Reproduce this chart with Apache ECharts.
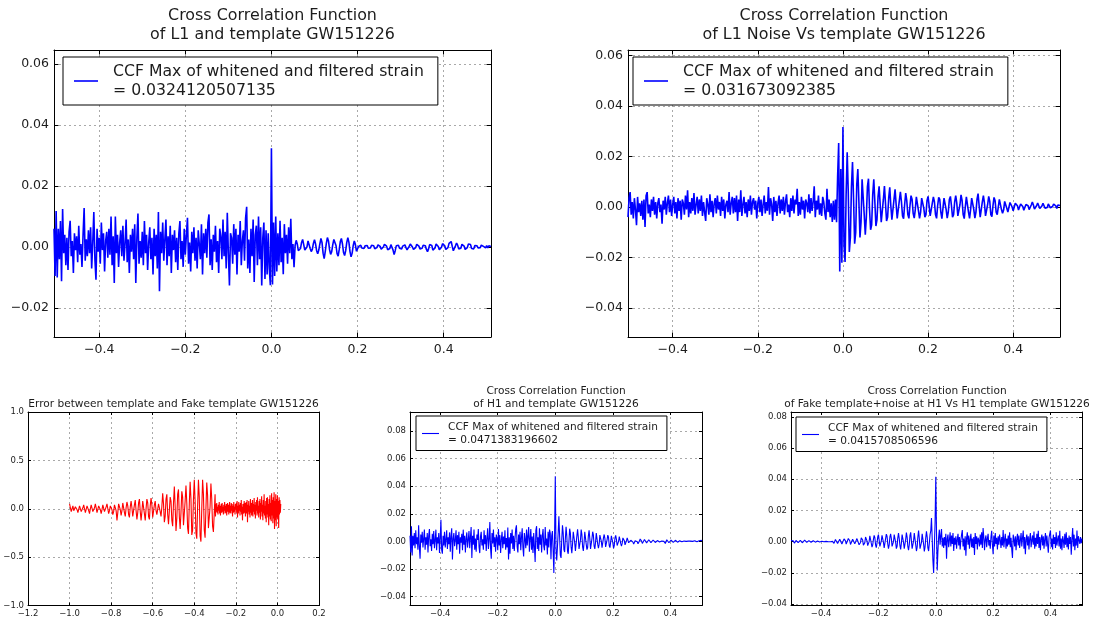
<!DOCTYPE html>
<html>
<head>
<meta charset="utf-8">
<script src="https://cdn.jsdelivr.net/npm/echarts@6/dist/echarts.min.js"></script>
<style>
html,body{margin:0;padding:0;background:#fff}
#chart{width:1094px;height:621px}
</style>
</head>
<body>
<div id="chart"></div>
<script>
// Lag grid shared by the four cross-correlation panels (seconds)
const LAG_START = -0.505;
const LAG_STEP = 0.0025;
const CCF_UNIT = 1e-4;   // CCF arrays are stored in units of 1e-4

// CCF of L1 strain with the GW151226 template
const l1Ccf = [
  60, -95,
  118, -100, 60, -40, 85, -112, 125, -20, 40, -60,
  30, -75, 50, 86, -30, 20, -85, 45, -10, 35,
  -50, 70, -25, 10, -65, 40, 128, -45, 25, -30,
  55, -20, 65, -70, 15, 115, -40, -107, 60, -15,
  30, -55, 80, -10, 45, -80, 20, 50, -35, 60,
  -25, 100, -60, 35, -118, 100, -20, 40, -65, 15,
  55, -30, 70, -45, 10, 90, -50, 25, -85, 40,
  -15, 60, -40, 75, -118, 30, 110, -55, 20, -35,
  50, -60, 85, -20, 40, -75, 15, 65, -40, 30,
  -90, 60, -30, 40, -70, 115, -145, 50, -20, 80,
  -45, 25, 90, -60, 35, -30, 70, -85, 40, -10,
  55, -50, 30, -75, 45, 85, -40, 20, -65, 60,
  -25, 40, 96, -55, 15, -80, 50, -20, 65, -45,
  30, -70, 55, 10, -40, 75, -90, 45, -20, 60,
  -35, 80, 107, -60, 25, -75, 40, -15, 70, -50,
  20, -85, 60, 35, -40, 90, -30, 50, -70, 112,
  -20, -126, 45, 30, -55, 75, -25, 60, -90, 40,
  -15, 85, -60, 20, 55, -45, 95, 132, -70, 25,
  -85, 60, -30, 90, -115, 40, 70, -60, 100, -40,
  65, -126, 30, 80, -105, 55, -90, 45, -70, -125,
  324.120507135,
  -123, 80, -95, 100, -80, 45, -60, 86, -50, 30, -89, 75, -20, 40, -55, 65, -20, 93, -40, 10, -66,
  5, 22, 10, -12, -18, -5,
  15, 25, 8, -10, -16, 0,
  20, 18, -5, -15, -8, 12,
  24, 10, -12, -22, -10, 10,
  28, 15, -20, -38, -15, 12,
  31, 20, -8, -24, -15, 8,
  25, 31, 5, -22, -30, -8,
  18, 28, 10, -18, -28, -12,
  15, 31, 15, -15, -32, -20,
  5, 20, 8, -14, -10, 2,
  8, 6, -3, -8, -5, 4,
  9, 5, -4, -9, -3, 6,
  10, 4, -6, -10, -2, 7,
  8, 2, -7, -8, 0, 9,
  11, 3, -9, -14, -5, 8,
  12, -10, -25, -12, 4, 10,
  6, -4, -10, -6, 3, 9,
  7, -2, -9, -8, 2, 10,
  8, 0, -8, -10, -2, 9,
  11, 3, -6, -12, -4, 6,
  12, 4, -8, -15, -6, 8,
  13, 5, -10, -14, -3, 10,
  12, 2, -9, -12, -1, 11,
  14, 4, -8, -13, -2, 12,
  15, 18, 2, -12, -10, 4,
  13, 6, -6, -12, -4, 9,
  12, 3, -8, -11, -2, 10,
  15, 8, -5, -10, -6, 5,
  10, 4, -3, -8, -2, 6,
  8, 2, -4, -3, 5,
  -3, 4, 6, 2
];

// CCF of L1 noise with the GW151226 template
const l1NoiseCcf = [
  -40, 35,
  59, -30, 20, -45, 35, -10, -72, 40, -20, 15,
  -35, 25, -50, 30, -79, 45, 59, -25, 10, -40,
  30, -15, 40, -30, 20, -45, 15, 35, -20, 10,
  -66, 25, -10, 40, -30, 15, 45, -20, 30, -35,
  10, 40, -25, 20, -45, 35, -15, 25, -50, 30,
  15, -30, 45, -10, 66, -40, 20, -25, 35, -15,
  55, -30, 10, 40, -25, 30, -15, 45, -35, 20,
  -20, -55, 35, 10, -30, 50, -20, 25, -40, 15,
  35, -25, 45, -10, 20, -35, 40, -15, 30, -45,
  10, 25, -20, 59, -30, 15, 40, -25, 35, -20,
  45, -55, 30, -20, 66, -35, 10, 40, -25, 20,
  -40, 30, -15, 45, -30, 20, 35, -10, 25, -45,
  15, 40, -20, 30, -35, 10, 45, -25, 20, -15,
  79, -30, 35, 10, -55, 40, -20, 25, -35, 15,
  45, -25, 30, -15, 40, -30, 20, 50, -20, 10,
  -40, 35, -15, 45, -25, 30, 10, 72, -35, 20,
  -30, 40, -10, 25, -45, 30, 15, -20, 50, -25,
  35, -15, 20, 82, -40, 25, -10, 45, -30, 15,
  -35, 40, 20, -25, -50, 72, -20, 30, -40, 15,
  -59, 25,
  -50, 30, -60, 120, 253, -255, 150, -220,
  316.73092385,
  -150, -217, 50, 217, 60, -178, -120, 80, 178, 30,
  -145, -100, 90, 150, 20, -120, -60, 110, 112, -30,
  -109, -40, 80, 112, -10, -90, -70, 50, 110, 20,
  -75, -50, 40, 82, 10, -60, -59, 30, 83, 15,
  -55, -40, 35, 78, 5, -50, -46, 30, 70, 10,
  -45, -40, 25, 60, 20, -35, -46, 10, 55, 25,
  -30, -45, 5, 45, 30, -25, -44, -10, 40, 35,
  -15, -45, -20, 35, 40, -5, -40, -30, 25, 42,
  5, -35, -40, 15, 40, 20, -30, -45, 5, 38,
  30, -20, -46, -5, 35, 38, -10, -44, -20, 30,
  42, 5, -40, -30, 20, 45, 15, -35, -40, 10,
  48, 25, -30, -46, 0, 40, 35, -20, -45, -10,
  35, 42, -10, -44, -20, 30, 53, 5, -40, -33,
  20, 45, 15, -35, -40, 10, 42, 22, -30, -38,
  5, 38, 25, -20, -30, 0, 30, 28, -10, -25,
  -12, 22, 25, -5, -20, -15, 18, 22, 0, -15,
  -13, 15, 20, 5, -12, -10, 12, 18, 2, -13,
  -8, 10, 17, 5, -10, -12, 8, 20, 8, -8,
  -13, 5, 16, 10, -6, -10, 4, 15, 12, -5,
  -12, -2, 12, 10, -3, -8, 2, 12, 8, 5,
  -6, 8, 10, 6
];

// CCF of H1 strain with the GW151226 template
const h1Ccf = [
  40, -80,
  109, -102, 40, -30, 60, -50, 80, -20, 30, -60,
  116, -40, -126, 50, -10, 70, -45, 20, 85, -60,
  30, -25, 60, -80, 40, 90, -35, 15, -70, 55,
  -20, 75, -50, 10, 85, -65, 30, -15, 60, -85,
  25, 157, -60, -90, 40, -30, 70, -45, 15, 80,
  -55, 30, -20, 65, -75, 40, 95, -131, 20, 60,
  -35, 10, 80, -60, 45, -20, 70, -90, 30, -10,
  55, -65, 85, -25, 40, -80, 20, 65, -45, 10,
  75, -50, 30, 104, -120, 40, -25, 85, -60, 20,
  -75, 50, 10, 90, -40, -85, 35, 70, -30, 15,
  -60, 80, -20, 45, -70, 25, 95, -55, 10, 140,
  -50, -126, 60, -15, 85, -40, 30, -75, 50, 20,
  -65, 90, -30, 45, -85, 15, 70, -50, 35, -20,
  80, -60, 25, -45, 100, -131, 30, -90, 60, -15,
  85, -55, 40, -70, 20, 90, 116, -40, -80, 50,
  -20, 70, -65, 30, 95, -45, -110, 60, 15, -50,
  85, -30, 40, 104, -75, 20, 90, -60, 35, -85,
  60, -40, -150, 80, 110, -55, 30, -70, 95, -25,
  50, -80, 40, 90, -35, -65, 104, -30, 20, -95,
  70, -45, 85, 60, -130, 40, 75, -60,
  -230, 30,
  471.383196602,
  -60, -138, -40, 60, 182, 40, -100, -120, 10, 116,
  60, -60, -77, 20, 105, 40, -70, -90, 0, 92,
  60, -40, -85, -20, 70, 80, -10, -70, -60, 40,
  88, 30, -55, -65, 10, 85, 50, -40, -70, -10,
  70, 75, -20, -60, -45, 40, 80, 20, -55, -50,
  20, 70, 45, -35, -55, -5, 60, 55, -20, -50,
  -20, 45, 55, 0, -45, -35, 25, 50, 20, -40,
  -40, 10, 45, 30, -30, -45, -5, 40, 44, -10,
  -50, -30, 25, 44, 15, -30, -40, 0, 35, 30,
  -15, -35, -15, 25, 30, 5, -25, -25, 5, 25,
  15, -10, -22, -12, 8, 20, 15,
  -5, -20, -15, 5, 18, 16, -2,
  -18, -18, 2, 17, 18, 2, -15,
  -20, -5, 14, 20, 6, -12, -20,
  -8, 12, 18, 8, -10, -18, -10,
  10, 16, 10, -8, -16, -12, 6,
  15, 12, -4, -15, -14, 2, 14,
  14, 0, -13, -15, -2, 12, 15,
  3, -10, -14, -4, 10, 14, 6,
  -8, -14, -6, 8, 13, 8, -6,
  -12, -8, 5, 12, 10, -3, -12,
  -10, 3, 12, 11, 0, -10, -10,
  2, 11, 12, 2, -8, -10, 0,
  10, 12, 4, -6, -10, -2, 8,
  10, 5,
  -3, 6, 8, 2
];

// CCF of fake template + H1 noise with the H1 template
const fakeH1Ccf = [
  8, -4,
  10, 5, -5, -9, -3, 8,
  12, 4, -6, -8, 0, 9,
  11, 2, -7, -9, 1, 10,
  13, 5, -5, -10, -4, 7,
  12, 6, -4, -9, -5, 6,
  11, 8, -3, -8, -6, 4,
  10, 9, -2, -9, -7, 3,
  12, 10, -1, -10, -8, 2,
  13, 11, 0, -9, -10, 0,
  12, 12, 2, -10, -11, -2,
  14, 15, 3, -12, -14, -3,
  16, 18, 4, -15, -18, -5,
  18, 22, 5, -16, -20, -4,
  20, 23, 6, -18, -26, -8,
  15, 25, 12, -14, -22, -10,
  20, 28, 8, -20, -26, -5,
  25, 30, 10, -22, -28, -6,
  30, 35, 5, -25, -30, 0,
  38, 30, -10, -35, -20, 15,
  40, 25, -20, -38, -10, 30,
  45, 10, -30, -35, 5, 40,
  42, -5, -40, -30, 20, 48,
  35, -15, -45, -20, 30, 50,
  20, -30, -42, 0, 45, 40,
  -5, -45, -30, 25, 55, 20,
  -25, -50, -10, 45, 50, -5,
  -45, -40, 15, 58, 30, -30,
  -55, -20, 40, 60, 5, -45,
  -50, 5, 55, 45, -20, -60,
  -35, 30, 72, 20, -45, -55,
  -5, 50, 55, -15, -62, -35,
  25, 66, 30, -40, -60, -10,
  45, 70,
  151, 20, -120, -200, -30, 120,
  415.708506596,
  60, -185, -60, 30, 77, -20, 40, 81, -30, 25,
  -40, 30, -25, 50, -109, 20, 45, -35, 10, 60,
  -30, 40, -15, 55, -60, 25, -20, 35, -45, 15,
  50, -25, 30, -50, 10, 45, 75, -30, 20, -55,
  35, -90, 25, 60, -20, 40, -45, 15, 50, -35,
  20, -40, 30, -85, 55, -15, 35, -50, 25, 10,
  -30, 45, -20, 60, -40, 87, 30, -55, 15, 40,
  -35, 20, 50, -25, 10, -45, 30, 70, -20, -80,
  40, -30, 55, -15, 25, -50, 35, -20, 45, 10,
  -40, 30, -25, 75, -35, 15, 50, -45, 20, -30,
  40, -20, 60, -35, 25, -50, -104, 45, 15, -30,
  35, -55, 20, 50, -25, 40, -40, 10, 55, -30,
  25, 72, -45, 30, -80, 15, 45, -25, 35, -50,
  20, 55, -35, 10, 40, -20, 65, -45, 25, -30,
  50, -15, 70, -40, 30, -55, 20, 45, -25, 35,
  -45, 15, 55, -30, 40, -20, -70, 25, 50, 72,
  -35, 20, -50, 45, -15, 30, -40, 60, -25, 15,
  40, -30, 70, -45, 20, -55, 35, 10, -40, 50,
  -20, 60, -35, 25, -50, 40, -15, 30, -83, 20,
  87, -30, 45, -55, 20, -25, 72, -40, 35, 10,
  -15, 30, -10, 20
];

// Template minus fake template, in units of 0.01
const ERR_UNIT = 0.01;
const ERR_CHIRP_START = -1.0, ERR_CHIRP_STEP = 0.004;
const errChirp = [
  5, 1, -3, 0, 3, -2, -4, 2, 4, -1,
  -4, -2, 3, 2, -3, -5, 1, 4, 0, -4,
  -3, 3, 4, -2, -5, 0, 4, 2, -3, -4,
  1, 5, 1, -4, -3, 3, 4, -1, -5, -1,
  4, 3, -3, -4, 2, 5, 0, -5, -2, 3,
  5, -1, -6, -3, 4, 6, -2, -12, -4, 5,
  6, -1, -7, -2, 6, 5, -4, -8, 1, 7,
  3, -6, -9, 2, 8, 1, -8, -7, 4, 9,
  -2, -11, -4, 6, 10, -3, -12, -3, 8, 9,
  -5, -12, 0, 10, 6, -8, -11, 3, 11, 4,
  -9, -10, 4, 8, -2, -6, -5, 5, 7, -3,
  -8, 2, 16, 5, -14, -8, 10, 15, -6, -16,
  -2, 12, 8, -12, -18, 6, 23, 2, -23, -10,
  15, 20, -8, -21, -4, 18, 12, -17, -18, 8,
  24, 6, -20, -26, 5, 28, 10, -27, -22, 10,
  30, 8, -25, -31, 2, 30, 12, -28, -34, 0,
  30, 15, -22, -30, 0, 27, 14, -20, -22, 2,
  26, 10, -18, -24, -5, 15
];
const ERR_TAIL_START = -0.298, ERR_TAIL_STEP = 0.002;
const errTail = [
  -8, 5, -3, 6, -4, 2, -6, 4, -2, 7,
  -5, 3, -7, 1, 5, -4, 6, -3, 2, -6,
  4, -2, 7, -5, 3, -4, 5, -7, 2, 6,
  -3, 4, -6, 1, 7, -4, 3, -5, 6, -2,
  5, -8, 3, -4, 7, -3, 2, -6, 5, -1,
  6, -4, 8, -9, 3, -5, 7, -2, 4, -7,
  6, -3, 9, -6, 2, -12, 5, 3, -5, 8,
  -4, 6, -8, 2, 7, -5, 9, -14, 4, -3,
  8, -6, 3, -9, 10, -4, 6, -7, 2, 9,
  -8, 5, -3, 11, -6, 4, -10, 7, -2, 9,
  -7, 12, -5, 3, -9, 8, -4, 10, -11, 6,
  -3, 13, -8, 4, -12, 9, -5, 15, -7, 3,
  -10, 8, -14, 11, -6, 12, -9, 5, -17, 10,
  -8, 14, -11, 6, -13, 16, -7, 9, -15, 12,
  -10, 17, -21, 8, -12, 15, -18, 10, -9, 14,
  -11, 8, -20, 12, -6, 9, -4, 5
];

// Text drawn on the figure
const titleCCF = 'Cross Correlation Function';
const titleL1 = 'of L1 and template GW151226';
const titleL1Noise = 'of L1 Noise Vs template GW151226';
const titleErr = 'Error between template and Fake template GW151226';
const titleH1 = 'of H1 and template GW151226';
const titleFake = 'of Fake template+noise at H1 Vs H1 template GW151226';
const legendHead = 'CCF Max of whitened and filtered strain';

const FONT = 'DejaVu Sans';
const INK = '#1c1c1c';

function lagPoints(arr) {
  return arr.map((v, i) => [LAG_START + i * LAG_STEP, v * CCF_UNIT]);
}
function maxLabel(arr) {
  const m = Math.max.apply(null, arr) * CCF_UNIT;
  return '= ' + String(parseFloat(m.toPrecision(12)));
}
function tickFmt(dec) {
  return function (v) {
    if (Math.abs(v) < 1e-9) v = 0;
    return v.toFixed(dec).replace('-', '\u2212');
  };
}

const errPoints = errChirp.map((v, i) => [ERR_CHIRP_START + i * ERR_CHIRP_STEP, v * ERR_UNIT])
  .concat(errTail.map((v, i) => [ERR_TAIL_START + i * ERR_TAIL_STEP, v * ERR_UNIT]));

// Panel layout: plot boxes in pixels and axis ranges
const panels = [
  { box: { left: 54, top: 50, width: 437, height: 287 }, x: [-0.505, 0.51], y: [-0.0295, 0.0646],
    xs: 5, ys: 5, xd: 1, yd: 2, fs: 12.5, tick: 4.5, xm: 6.5, ym: 5, ends: false,
    data: lagPoints(l1Ccf), color: '#0000ff', lw: 1.6, name: 'L1' },
  { box: { left: 628, top: 50, width: 432, height: 287 }, x: [-0.505, 0.51], y: [-0.0514, 0.0621],
    xs: 5, ys: 5, xd: 1, yd: 2, fs: 12.5, tick: 4.5, xm: 6.5, ym: 5, ends: false,
    data: lagPoints(l1NoiseCcf), color: '#0000ff', lw: 1.6, name: 'L1 noise' },
  { box: { left: 28, top: 412, width: 291, height: 193.5 }, x: [-1.2, 0.2], y: [-1, 1],
    xs: 7, ys: 4, xd: 1, yd: 1, fs: 8.5, tick: 3, xm: 4, ym: 4, ends: true,
    data: errPoints, color: '#ff0000', lw: 1.1, name: 'error' },
  { box: { left: 410, top: 412, width: 292, height: 193.5 }, x: [-0.505, 0.51], y: [-0.0465, 0.0938],
    xs: 5, ys: 7, xd: 1, yd: 2, fs: 8.5, tick: 3, xm: 4, ym: 4, ends: false,
    data: lagPoints(h1Ccf), color: '#0000ff', lw: 1.1, name: 'H1' },
  { box: { left: 791, top: 412, width: 291, height: 193.5 }, x: [-0.505, 0.51], y: [-0.0409, 0.0831],
    xs: 5, ys: 6, xd: 1, yd: 2, fs: 8.5, tick: 3, xm: 4, ym: 4, ends: false,
    data: lagPoints(fakeH1Ccf), color: '#0000ff', lw: 1.1, name: 'fake H1' }
];

const gridLine = { show: true, lineStyle: { color: '#a9a9a9', type: [2, 3], width: 1 } };
const frame = { show: true, onZero: false, lineStyle: { color: '#000', width: 1 } };

const grids = [], xAxes = [], yAxes = [], series = [];
panels.forEach((p, k) => {
  grids.push(Object.assign({ containLabel: false, show: false }, p.box));
  const tick = { show: true, inside: true, length: p.tick, lineStyle: { color: '#000', width: 1 } };
  const label = (dec, margin) => ({
    show: true, formatter: tickFmt(dec), fontSize: p.fs, fontFamily: FONT, color: INK, margin: margin,
    showMinLabel: p.ends, showMaxLabel: p.ends
  });
  xAxes.push({ gridIndex: k, type: 'value', position: 'bottom', min: p.x[0], max: p.x[1], splitNumber: p.xs,
    axisLine: frame, axisTick: tick, axisLabel: label(p.xd, p.xm), splitLine: gridLine });
  xAxes.push({ gridIndex: k, type: 'value', position: 'top', min: p.x[0], max: p.x[1], splitNumber: p.xs,
    axisLine: frame, axisTick: tick, axisLabel: { show: false }, splitLine: { show: false } });
  yAxes.push({ gridIndex: k, type: 'value', position: 'left', min: p.y[0], max: p.y[1], splitNumber: p.ys,
    axisLine: frame, axisTick: tick, axisLabel: label(p.yd, p.ym), splitLine: gridLine });
  yAxes.push({ gridIndex: k, type: 'value', position: 'right', min: p.y[0], max: p.y[1], splitNumber: p.ys,
    axisLine: frame, axisTick: tick, axisLabel: { show: false }, splitLine: { show: false } });
  series.push({ type: 'line', name: p.name, xAxisIndex: 2 * k, yAxisIndex: 2 * k, data: p.data,
    symbol: 'none', showSymbol: false, lineStyle: { color: p.color, width: p.lw }, itemStyle: { color: p.color },
    emphasis: { disabled: true }, silent: true, z: 3 });
});

const legendText = {
  'L1': legendHead + '\n' + maxLabel(l1Ccf),
  'L1 noise': legendHead + '\n' + maxLabel(l1NoiseCcf),
  'H1': legendHead + '\n' + maxLabel(h1Ccf),
  'fake H1': legendHead + '\n' + maxLabel(fakeH1Ccf)
};
// Legend swatch: a short horizontal stroke, like a line handle
function legendBox(name, left, top, big) {
  const w = big ? 24 : 17;
  const lw = big ? 1.6 : 1.1;
  return {
    data: [{ name: name, icon: 'path://M0,0h' + w + 'v' + lw + 'h-' + w + 'z' }],
    left: left, top: top, orient: 'vertical', selectedMode: false, symbolKeepAspect: true,
    itemWidth: w, itemHeight: 14,
    padding: big ? [5, 14, 5, 11] : [4, 9, 3.5, 6],
    borderColor: '#000', borderWidth: 1, borderRadius: 0, backgroundColor: '#fff',
    formatter: n => legendText[n],
    textStyle: { fontFamily: FONT, fontSize: big ? 15.7 : 10.6, lineHeight: big ? 19 : 13.5, color: INK,
      padding: [0, 0, 0, big ? 10 : 4] }
  };
}

function titleLine(text, x, y, size) {
  return { type: 'text', x: x, y: y, silent: true,
    style: { text: text, fontFamily: FONT, fontSize: size, fill: INK, align: 'center', verticalAlign: 'middle' } };
}

const option = {
  animation: false,
  backgroundColor: '#fff',
  grid: grids,
  xAxis: xAxes,
  yAxis: yAxes,
  series: series,
  legend: [
    legendBox('L1', 63, 57, true),
    legendBox('L1 noise', 633, 57, true),
    legendBox('H1', 416, 416, false),
    legendBox('fake H1', 796, 417, false)
  ],
  graphic: [
    titleLine(titleCCF, 272.5, 16, 15.9), titleLine(titleL1, 272.5, 35, 15.9),
    titleLine(titleCCF, 844, 16, 15.9), titleLine(titleL1Noise, 844, 35, 15.9),
    titleLine(titleErr, 173.5, 404, 10.6),
    titleLine(titleCCF, 556, 391, 10.6), titleLine(titleH1, 556, 404, 10.6),
    titleLine(titleCCF, 937, 391, 10.6), titleLine(titleFake, 937, 404, 10.6)
  ]
};

const chart = echarts.init(document.getElementById('chart'), null, { renderer: 'canvas' });
chart.setOption(option);
</script>
</body>
</html>
